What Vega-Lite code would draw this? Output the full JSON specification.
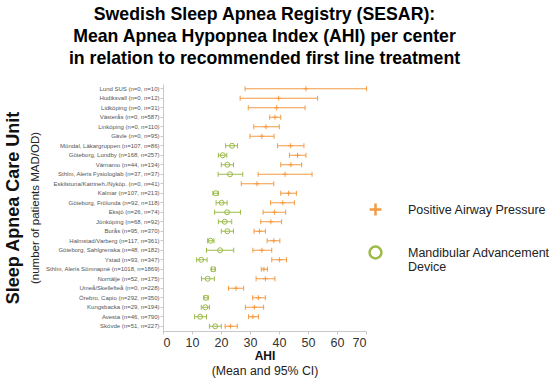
{
  "$schema": "https://vega.github.io/schema/vega-lite/v6.json",
  "width": 203,
  "height": 247,
  "padding": {"left": 4, "top": 6, "right": 2, "bottom": 2},
  "background": "white",
  "config": {
    "font": "Liberation Sans",
    "view": {"stroke": null},
    "axis": {"grid": false, "domainColor": "#c8c8c8", "tickColor": "#c8c8c8"}
  },
  "title": {
    "text": ["Swedish Sleep Apnea Registry (SESAR):", "Mean Apnea Hypopnea Index (AHI) per center", "in relation to recommended first line treatment"],
    "font": "Liberation Sans",
    "fontSize": 17.7,
    "fontWeight": "bold",
    "lineHeight": 22,
    "color": "#000",
    "anchor": "middle",
    "frame": "group",
    "offset": 16
  },
  "data": {
    "values": [
      {"center": "Lund SUS (n=0, n=10)", "treatment": "Positive Airway Pressure", "mean": 49.3, "lo": 28.3, "hi": 70.2},
      {"center": "Hudiksvall (n=0, n=12)", "treatment": "Positive Airway Pressure", "mean": 39.9, "lo": 26.6, "hi": 53.3},
      {"center": "Lidköping (n=0, n=31)", "treatment": "Positive Airway Pressure", "mean": 39.2, "lo": 29.4, "hi": 49.0},
      {"center": "Västerås (n=0, n=587)", "treatment": "Positive Airway Pressure", "mean": 38.6, "lo": 36.8, "hi": 40.6},
      {"center": "Linköping (n=0, n=110)", "treatment": "Positive Airway Pressure", "mean": 35.5, "lo": 31.3, "hi": 40.1},
      {"center": "Gävle (n=0, n=95)", "treatment": "Positive Airway Pressure", "mean": 34.1, "lo": 30.0, "hi": 38.3},
      {"center": "Möndal, Läkargruppen (n=107, n=86)", "treatment": "Mandibular Advancement Device", "mean": 23.8, "lo": 21.6, "hi": 25.7},
      {"center": "Möndal, Läkargruppen (n=107, n=86)", "treatment": "Positive Airway Pressure", "mean": 44.0, "lo": 39.5, "hi": 48.6},
      {"center": "Göteborg, Lundby (n=168, n=257)", "treatment": "Mandibular Advancement Device", "mean": 20.6, "lo": 19.1, "hi": 22.0},
      {"center": "Göteborg, Lundby (n=168, n=257)", "treatment": "Positive Airway Pressure", "mean": 46.4, "lo": 43.6, "hi": 49.3},
      {"center": "Värnamo (n=44, n=134)", "treatment": "Mandibular Advancement Device", "mean": 22.2, "lo": 20.1, "hi": 24.3},
      {"center": "Värnamo (n=44, n=134)", "treatment": "Positive Airway Pressure", "mean": 44.1, "lo": 40.6, "hi": 47.8},
      {"center": "Sthlm, Aleris Fysiologlab (n=37, n=37)", "treatment": "Mandibular Advancement Device", "mean": 23.1, "lo": 19.0, "hi": 27.5},
      {"center": "Sthlm, Aleris Fysiologlab (n=37, n=37)", "treatment": "Positive Airway Pressure", "mean": 42.1, "lo": 32.8, "hi": 51.4},
      {"center": "Eskilstuna/Katrineh./Nyköp. (n=0, n=41)", "treatment": "Positive Airway Pressure", "mean": 32.4, "lo": 27.0, "hi": 38.2},
      {"center": "Kalmar (n=107, n=213)", "treatment": "Mandibular Advancement Device", "mean": 18.2, "lo": 17.2, "hi": 19.1},
      {"center": "Kalmar (n=107, n=213)", "treatment": "Positive Airway Pressure", "mean": 43.3, "lo": 40.6, "hi": 46.0},
      {"center": "Göteborg, Frölunda (n=92, n=118)", "treatment": "Mandibular Advancement Device", "mean": 20.2, "lo": 18.3, "hi": 22.1},
      {"center": "Göteborg, Frölunda (n=92, n=118)", "treatment": "Positive Airway Pressure", "mean": 41.3, "lo": 37.1, "hi": 45.3},
      {"center": "Eksjö (n=26, n=74)", "treatment": "Mandibular Advancement Device", "mean": 22.1, "lo": 17.8, "hi": 26.7},
      {"center": "Eksjö (n=26, n=74)", "treatment": "Positive Airway Pressure", "mean": 38.4, "lo": 34.5, "hi": 42.3},
      {"center": "Jönköping (n=68, n=92)", "treatment": "Mandibular Advancement Device", "mean": 21.3, "lo": 19.1, "hi": 23.7},
      {"center": "Jönköping (n=68, n=92)", "treatment": "Positive Airway Pressure", "mean": 37.2, "lo": 33.7, "hi": 40.9},
      {"center": "Borås (n=95, n=370)", "treatment": "Mandibular Advancement Device", "mean": 22.2, "lo": 20.1, "hi": 24.3},
      {"center": "Borås (n=95, n=370)", "treatment": "Positive Airway Pressure", "mean": 33.3, "lo": 31.4, "hi": 35.3},
      {"center": "Halmstad/Varberg (n=117, n=361)", "treatment": "Mandibular Advancement Device", "mean": 16.4, "lo": 15.4, "hi": 17.6},
      {"center": "Halmstad/Varberg (n=117, n=361)", "treatment": "Positive Airway Pressure", "mean": 38.2, "lo": 35.9, "hi": 40.3},
      {"center": "Göteborg, Sahlgrenska (n=48, n=182)", "treatment": "Mandibular Advancement Device", "mean": 19.7, "lo": 15.0, "hi": 24.4},
      {"center": "Göteborg, Sahlgrenska (n=48, n=182)", "treatment": "Positive Airway Pressure", "mean": 34.1, "lo": 31.0, "hi": 37.5},
      {"center": "Ystad (n=93, n=347)", "treatment": "Mandibular Advancement Device", "mean": 13.2, "lo": 11.6, "hi": 15.2},
      {"center": "Ystad (n=93, n=347)", "treatment": "Positive Airway Pressure", "mean": 40.2, "lo": 37.5, "hi": 42.6},
      {"center": "Sthlm, Aleris Sömnapné (n=1018, n=1869)", "treatment": "Mandibular Advancement Device", "mean": 17.3, "lo": 16.7, "hi": 18.0},
      {"center": "Sthlm, Aleris Sömnapné (n=1018, n=1869)", "treatment": "Positive Airway Pressure", "mean": 34.8, "lo": 33.9, "hi": 36.0},
      {"center": "Norrtälje (n=52, n=175)", "treatment": "Mandibular Advancement Device", "mean": 15.4, "lo": 13.3, "hi": 17.7},
      {"center": "Norrtälje (n=52, n=175)", "treatment": "Positive Airway Pressure", "mean": 35.3, "lo": 32.1, "hi": 38.6},
      {"center": "Umeå/Skellefteå (n=0, n=228)", "treatment": "Positive Airway Pressure", "mean": 25.2, "lo": 22.6, "hi": 27.8},
      {"center": "Örebro, Capio (n=292, n=350)", "treatment": "Mandibular Advancement Device", "mean": 14.8, "lo": 14.1, "hi": 15.6},
      {"center": "Örebro, Capio (n=292, n=350)", "treatment": "Positive Airway Pressure", "mean": 32.9, "lo": 30.9, "hi": 35.3},
      {"center": "Kungsbacka (n=29, n=194)", "treatment": "Mandibular Advancement Device", "mean": 14.6, "lo": 13.2, "hi": 16.0},
      {"center": "Kungsbacka (n=29, n=194)", "treatment": "Positive Airway Pressure", "mean": 31.5, "lo": 28.4, "hi": 34.7},
      {"center": "Avesta (n=46, n=790)", "treatment": "Mandibular Advancement Device", "mean": 12.8, "lo": 10.9, "hi": 15.0},
      {"center": "Avesta (n=46, n=790)", "treatment": "Positive Airway Pressure", "mean": 31.0, "lo": 29.5, "hi": 32.9},
      {"center": "Skövde (n=51, n=227)", "treatment": "Mandibular Advancement Device", "mean": 18.0, "lo": 16.0, "hi": 20.1},
      {"center": "Skövde (n=51, n=227)", "treatment": "Positive Airway Pressure", "mean": 23.3, "lo": 21.4, "hi": 25.6}
    ]
  },
  "resolve": {"axis": {"x": "independent", "y": "independent"}},
  "layer": [
    {
      "mark": {"type": "point", "filled": false, "size": 25, "strokeWidth": 1, "opacity": 1},
      "encoding": {
        "y": {"field": "center", "type": "nominal", "sort": null,
          "axis": {"orient": "left", "title": "(number of patients MAD/OD)", "titleFontSize": 11.5, "titleFontWeight": "normal", "titleColor": "#222", "titlePadding": 5,
            "labelFontSize": 6, "labelColor": "#555", "tickSize": 3, "labelPadding": 1, "labelLimit": 200}},
        "x": {"field": "mean", "type": "quantitative", "scale": {"domain": [0, 70], "nice": false},
          "axis": {"orient": "bottom", "title": "AHI", "titleFontSize": 12, "titleFontWeight": "bold", "titleColor": "#111", "titlePadding": 2,
            "values": [0, 10, 20, 30, 40, 50, 60, 70], "labelFontSize": 12.5, "labelColor": "#333", "tickSize": 3, "labelPadding": 2}},
        "color": {"field": "treatment", "type": "nominal",
          "scale": {"domain": ["Positive Airway Pressure", "Mandibular Advancement Device"], "range": ["#F59A42", "#9CBB4A"]},
          "legend": {"title": null, "orient": "none", "legendX": 205, "legendY": 118,
            "symbolSize": 140, "symbolStrokeWidth": 2.5,
            "labelFontSize": 12.5, "labelColor": "#222", "labelFont": "Liberation Sans",
            "labelOffset": 25, "rowPadding": 20, "labelLimit": 300,
            "labelExpr": "datum.label == 'Mandibular Advancement Device' ? ['Mandibular Advancement', 'Device'] : datum.label",
            "encode": {
              "symbols": {"update": {"strokeWidth": {"value": 2.5}}},
              "labels": {"update": {"dy": {"signal": "datum.value === 'Mandibular Advancement Device' ? -8.5 : 0"}}}}}},
        "shape": {"field": "treatment", "type": "nominal",
          "scale": {"domain": ["Positive Airway Pressure", "Mandibular Advancement Device"], "range": ["M-1,0L1,0M0,-1L0,1", "circle"]}}
      }
    },
    {
      "mark": {"type": "rule", "strokeWidth": 1},
      "encoding": {
        "y": {"field": "center", "type": "nominal", "sort": null,
          "axis": {"orient": "left", "title": "Sleep Apnea Care Unit", "titleFontSize": 18, "titleFontWeight": "bold", "titleColor": "#111",
            "labels": false, "ticks": false, "domain": false, "titlePadding": 141}},
        "x": {"field": "lo", "type": "quantitative", "scale": {"domain": [0, 70], "nice": false},
          "axis": {"orient": "bottom", "title": "(Mean and 95% CI)", "titleFontSize": 12.3, "titleFontWeight": "normal", "titleColor": "#222",
            "labels": false, "ticks": false, "domain": false, "titlePadding": 33}},
        "x2": {"field": "hi"},
        "color": {"field": "treatment", "type": "nominal"}
      }
    },
    {
      "mark": {"type": "point", "shape": "M0,-1L0,1", "filled": false, "size": 25, "strokeWidth": 1, "opacity": 1},
      "encoding": {
        "y": {"field": "center", "type": "nominal", "sort": null, "axis": null},
        "x": {"field": "lo", "type": "quantitative", "scale": {"domain": [0, 70], "nice": false}, "axis": null},
        "color": {"field": "treatment", "type": "nominal"}
      }
    },
    {
      "mark": {"type": "point", "shape": "M0,-1L0,1", "filled": false, "size": 25, "strokeWidth": 1, "opacity": 1},
      "encoding": {
        "y": {"field": "center", "type": "nominal", "sort": null, "axis": null},
        "x": {"field": "hi", "type": "quantitative", "scale": {"domain": [0, 70], "nice": false}, "axis": null},
        "color": {"field": "treatment", "type": "nominal"}
      }
    }
  ]
}
